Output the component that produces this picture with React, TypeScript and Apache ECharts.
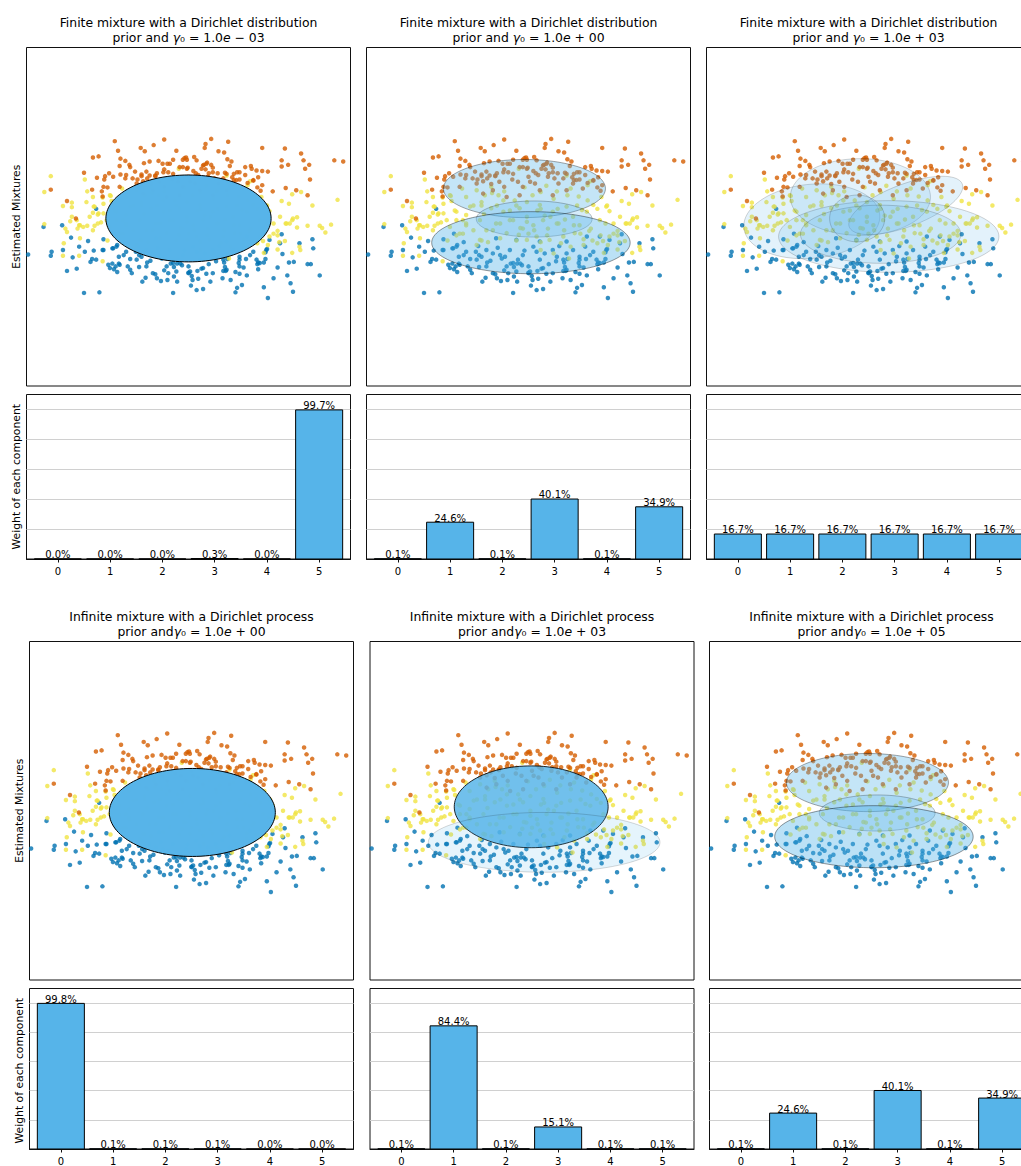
import React, { useEffect, useRef } from "react";
import * as echarts from "echarts";

type Pt = [number, number];

const FONT = "DejaVu Sans, Verdana, sans-serif";
const BLUE = "#0072B2";
const YELLOW = "#F0E442";
const ORANGE = "#D55E00";
const ELLIPSE_RGB = "86,180,233";
const ELLIPSE_COLOR = "#56B4E9";

// Samples of the three generating clusters (lower, middle, upper)
const bluePoints: Pt[] = [
  [-1.14, 0.14],
  [-1.79, -0.18], [-1.56, -0.15], [-1.45, -0.37], [-1.98, -0.67], [-1.69, -0.62], [-1.7, -0.69], [-1.55, -0.59],
  [-1.43, -0.72], [-1.35, -0.53], [-1.24, -0.43], [-1.05, -0.4], [-1.17, -0.6], [-1.06, -0.59], [-0.92, -0.3],
  [-0.94, -0.56], [-0.88, -0.5], [-1.19, -0.75], [-1.21, -0.8], [-1.38, -0.92], [-1.5, -0.96], [-0.99, -0.85],
  [-0.94, -0.83], [-0.9, -0.88], [-0.86, -0.83], [-0.92, -0.93], [-0.88, -0.98], [-0.86, -0.71], [-0.75, -0.88],
  [-0.72, -0.75], [-0.61, -0.68], [-0.7, -1.0], [-0.61, -0.89], [-0.57, -1.15], [-0.53, -1.08], [-0.51, -0.81],
  [-0.41, -1.02], [-0.39, -1.09], [-0.34, -1.14], [-0.26, -1.12], [-0.3, -0.95], [-0.22, -0.83], [-0.18, -0.89],
  [-0.14, -0.83], [-0.08, -0.86], [-0.18, -1.06], [-0.14, -1.15], [0.0, -1.0], [-1.29, -1.35], [-1.1, -1.34],
  [-0.19, -1.35], [-0.65, -0.62], [-0.8, -0.68],
  [1.15, -0.31], [1.37, -0.47], [1.53, -0.4], [1.54, -0.56], [0.97, -0.57], [0.95, -0.63], [1.16, -0.66],
  [1.24, -0.81], [1.3, -0.8], [1.47, -0.84], [1.51, -0.84], [0.95, -0.75], [0.93, -0.81], [0.86, -0.81],
  [0.85, -0.84], [0.86, -0.93], [0.71, -0.75], [0.68, -0.9], [0.63, -0.76], [0.62, -0.82], [0.63, -1.01],
  [0.72, -1.04], [0.44, -0.81], [0.48, -0.75], [0.34, -0.79], [0.43, -0.96], [0.46, -0.96], [0.45, -0.89],
  [0.42, -1.09], [0.27, -1.15], [0.22, -1.01], [0.16, -0.92], [0.11, -0.96], [0.0, -0.99], [0.04, -1.05],
  [0.05, -1.12], [0.03, -1.22], [0.1, -1.3], [0.18, -1.28], [0.6, -1.26], [0.58, -1.34], [0.66, -1.21],
  [0.93, -1.25], [1.05, -1.09], [1.22, -1.04], [1.26, -1.18], [1.29, -1.33], [1.62, -1.04], [0.98, -1.44],
  [-0.1, -0.83],
  [-0.93, -0.56], [-0.89, -0.53], [-0.77, -0.62], [-0.58, -0.71], [-0.52, -0.59], [-0.44, -0.65], [-0.35, -0.68],
  [-0.33, -0.74], [-0.29, -0.71], [-0.23, -0.59], [-0.19, -0.82], [-0.13, -0.76], [-0.07, -0.68], [0.0, -0.88],
  [0.06, -0.53], [0.1, -0.62], [0.14, -0.76], [0.2, -0.65], [0.3, -0.59], [0.35, -0.71], [0.43, -0.76],
  [0.47, -0.65], [0.55, -0.59], [0.63, -0.71], [0.7, -0.53], [0.76, -0.68], [0.84, -0.76], [0.96, -0.59],
  [1.0, -0.41], [1.13, -0.47], [-1.05, -0.59], [-1.14, -0.76], [-0.97, -0.91], [-0.85, -0.85], [-0.72, -0.94],
  [-0.64, -0.76], [-0.52, -0.88], [-0.44, -1.0], [-0.27, -0.88], [-0.15, -0.97], [0.02, -0.97], [0.18, -0.91],
  [0.3, -1.0], [0.47, -0.94], [0.63, -0.88], [0.88, -0.82], [0.14, -0.44], [-0.15, -0.41], [-0.4, -0.38],
  [0.47, -0.44], [0.72, -0.35], [0.88, -0.35],
  [-0.62, -0.52], [-0.47, -0.78], [-0.38, -0.55], [-0.05, -0.6], [0.25, -0.84], [0.38, -0.52], [0.58, -0.98],
  [0.8, -0.62], [-0.8, -0.45], [-0.25, -1.0], [0.12, -1.1], [0.52, -1.12], [-1.28, -0.62], [1.1, -0.9],
];

const yellowPoints: Pt[] = [
  [-1.7, 0.72], [-1.78, 0.44], [-1.28, 0.66], [-0.12, 0.85], [-0.96, 0.37], [-1.06, 0.34], [-1.55, 0.19],
  [-1.44, 0.25], [-1.26, 0.26], [-1.17, 0.18], [-1.44, 0.17], [-1.18, 0.07], [-1.11, 0.06],
  [-1.78, -0.13], [-1.12, 0.04], [-1.46, -0.08], [-1.35, -0.15], [-1.37, -0.21], [-1.52, -0.21], [-1.5, -0.27],
  [-1.25, -0.16], [-1.16, -0.16], [-1.08, -0.1], [-1.18, -0.24], [-1.34, -0.38], [-1.54, -0.47], [-1.55, -0.69],
  [-1.35, -0.69], [-1.06, -0.79],
  [0.47, 0.73], [0.76, 0.63], [0.73, 0.56], [1.28, 0.4], [1.39, 0.44], [1.24, 0.23], [1.53, 0.2], [1.84, 0.3],
  [1.34, -0.01], [1.2, -0.12], [1.25, -0.12], [1.28, -0.06], [1.34, -0.19], [1.47, -0.16], [1.62, -0.16],
  [1.65, -0.2], [1.69, -0.28], [1.76, -0.14], [1.1, -0.25], [1.1, -0.33], [1.0, -0.35], [1.12, -0.45],
  [1.19, -0.43], [0.98, -0.5], [0.92, -0.43], [0.93, -0.64], [1.1, -0.58], [1.28, -0.64], [1.37, -0.53],
  [1.38, -0.59], [0.5, -0.74],
  [-0.64, 0.47], [-0.58, 0.26], [-0.46, 0.15], [-0.37, 0.38], [-0.31, 0.09], [-0.23, -0.06], [-0.17, 0.29],
  [-0.11, 0.15], [-0.02, 0.0], [0.06, -0.15], [0.14, 0.21], [0.18, -0.06], [0.24, -0.21], [0.3, 0.09],
  [0.37, -0.12], [0.47, 0.18], [0.55, 0.0], [0.63, -0.15], [0.72, 0.09], [0.8, 0.21], [0.88, -0.06],
  [-0.4, -0.12], [-0.27, -0.29], [-0.52, -0.24], [-0.6, -0.41], [-0.02, -0.41], [0.1, -0.35], [0.26, -0.41],
  [0.43, -0.35], [0.57, -0.29], [-0.77, -0.12], [-0.97, -0.18], [-0.89, 0.09], [-0.72, 0.18], [-0.81, -0.06],
  [0.96, 0.18], [1.05, -0.12], [1.13, 0.0], [1.21, -0.12], [1.29, -0.03], [-1.05, 0.06], [-1.12, -0.12],
  [-1.16, 0.18], [-1.22, 0.0], [-1.3, -0.18], [-1.38, -0.06],
  [-1.44, 0.0], [-1.34, -0.15], [-1.01, -0.06], [-0.89, -0.06], [-0.77, -0.15], [-0.81, -0.3], [-0.68, -0.24],
  [-0.6, -0.06], [-0.77, 0.03], [-0.89, -0.33], [-0.58, -0.42], [-0.64, -0.5], [-0.44, -0.24], [-0.35, -0.12],
  [-0.19, -0.06], [-0.07, -0.21], [-0.15, -0.42],
  [0.27, 0.0], [0.35, -0.12], [0.44, -0.24], [0.56, -0.15], [0.64, -0.3], [0.77, -0.21], [0.79, -0.42],
  [0.89, -0.33], [0.95, -0.12], [0.4, -0.47], [0.52, -0.53], [0.68, -0.5], [0.85, -0.47], [0.23, -0.33],
  [0.07, -0.24], [0.15, -0.59], [0.31, -0.65], [0.11, 0.11], [-0.02, -0.09],
  [-0.54, 0.38], [-0.46, 0.53], [-0.77, 0.35], [-0.68, 0.2], [-0.58, 0.2], [-0.39, 0.2], [-0.31, 0.29],
  [-0.23, 0.11], [-0.15, 0.2], [-0.91, 0.11], [-1.05, 0.23], [-1.18, 0.35], [-0.97, 0.38],
  [0.15, 0.44], [0.31, 0.32], [0.48, 0.38], [0.6, 0.2], [0.73, 0.29], [0.85, 0.14], [0.36, 0.14],
  [0.15, 0.14], [-0.02, 0.26], [0.97, 0.2], [-0.45, 0.42], [0.05, 0.38], [0.35, 0.45], [0.62, 0.36],
  [0.0, -0.3], [-0.35, -0.38], [0.75, -0.25], [0.9, 0.35], [1.0, 0.1], [-0.95, 0.28], [0.45, -0.05],
  [-0.1, -0.2], [0.15, -0.45], [-0.5, -0.45], [0.68, -0.4], [-0.85, -0.3], [1.05, -0.3],
  [-0.3, 0.45], [-0.05, 0.52], [0.22, 0.55], [0.52, 0.5], [-0.82, 0.5], [-0.55, 0.05], [-0.12, -0.32],
  [0.2, 0.02], [0.66, 0.12], [-1.0, -0.42], [1.15, 0.28], [-1.25, 0.45],
];

const orangePoints: Pt[] = [
  [-0.91, 1.34], [-0.3, 1.37], [-0.87, 1.17], [-0.59, 1.22], [-0.54, 1.16], [-0.43, 1.27], [-0.15, 1.17],
  [-0.03, 1.05], [-0.07, 1.01], [-1.18, 1.05], [-1.11, 1.07], [-0.84, 1.03], [-0.78, 0.99], [-0.73, 0.92],
  [-0.85, 0.9], [-0.72, 0.88], [-0.55, 0.95], [-0.48, 0.98], [-0.37, 0.99], [-0.32, 0.94], [-0.26, 0.94],
  [-0.19, 1.01], [-0.11, 0.88], [-0.02, 0.85], [-0.52, 0.8], [-0.3, 0.84], [-0.25, 0.79], [-1.29, 0.78],
  [-0.98, 0.77], [-0.84, 0.75], [-1.03, 0.72], [-1.04, 0.66], [-1.13, 0.69], [-0.78, 0.68], [-0.69, 0.68],
  [-0.58, 0.72], [-0.48, 0.73], [-0.41, 0.73], [-0.39, 0.77], [-1.05, 0.53], [-1.0, 0.52], [-1.19, 0.48],
  [-1.07, 0.45], [-1.7, 0.48], [-1.5, 0.28], [-1.06, 0.36], [-0.63, 0.66], [-0.56, 0.63], [-1.39, -0.03],
  [0.28, 1.38], [0.49, 1.33], [0.21, 1.29], [0.2, 1.22], [0.37, 1.16], [0.44, 1.14], [0.91, 1.22], [1.19, 1.21],
  [1.39, 1.12], [0.07, 1.06], [-0.05, 1.04], [-0.02, 1.01], [0.48, 1.02], [0.53, 0.98], [1.15, 1.0],
  [1.23, 0.92], [1.15, 0.89], [1.42, 1.0], [1.49, 0.92], [1.44, 0.85], [1.8, 1.0], [1.91, 0.98], [0.19, 0.92],
  [0.23, 0.96], [0.28, 0.92], [0.3, 0.87], [0.16, 0.85], [0.21, 0.84], [-0.01, 0.87], [0.51, 0.9], [0.7, 0.88],
  [0.77, 0.9], [0.78, 0.85], [0.84, 0.82], [0.91, 0.81], [0.98, 0.8], [0.09, 0.77], [0.25, 0.77], [0.36, 0.77],
  [0.45, 0.78], [0.56, 0.76], [0.6, 0.79], [0.54, 0.7], [0.56, 0.65], [0.63, 0.66], [0.73, 0.6], [0.8, 0.64],
  [0.86, 0.7], [0.85, 0.52], [0.91, 0.56], [0.89, 0.46], [1.04, 0.45], [1.2, 0.51], [1.33, 0.47], [1.47, 0.38],
  [1.5, 0.66],
  [-0.77, 0.74], [-0.58, 0.75], [-0.51, 0.68], [-0.41, 0.72], [-0.36, 0.62], [-0.31, 0.79], [-0.3, 0.53],
  [-0.23, 0.94], [-0.19, 0.76], [-0.13, 0.62], [-0.07, 0.53], [0.0, 0.71], [0.06, 0.81], [0.08, 0.59],
  [0.14, 0.47], [0.18, 0.91], [0.22, 0.94], [0.24, 0.71], [0.3, 0.79], [0.37, 0.59], [0.43, 0.68], [0.47, 0.76],
  [0.55, 0.59], [0.59, 0.65], [0.63, 0.79], [-0.44, 0.47], [-0.56, 0.41], [-0.27, 0.35], [-0.11, 0.38],
  [0.3, 0.38], [0.47, 0.47], [0.67, 0.5], [0.8, 0.65], [-0.64, 0.59], [-0.85, 0.53], [-0.93, 0.71],
  [-0.07, 0.88], [0.1, 1.0],
  [-0.2, 0.66], [0.02, 0.62], [0.32, 0.68], [-0.46, 0.58], [0.12, 0.74], [-0.66, 0.8], [0.7, 0.74],
];

const componentIds = [0, 1, 2, 3, 4, 5];

// Estimated component weights
const finiteWeightsA = [0.0, 0.0, 0.0, 0.003, 0.0, 0.997];
const finiteWeightsB = [0.001, 0.246, 0.001, 0.401, 0.001, 0.349];
const finiteWeightsC = [0.167, 0.167, 0.167, 0.167, 0.167, 0.167];
const infiniteWeightsA = [0.998, 0.001, 0.001, 0.001, 0.0, 0.0];
const infiniteWeightsB = [0.001, 0.844, 0.001, 0.151, 0.001, 0.001];
const infiniteWeightsC = [0.001, 0.246, 0.001, 0.401, 0.001, 0.349];

// Estimated Gaussians: [meanX, meanY, width, height, angleDeg, component]
const finiteEllipsesA = [[0.0, -0.03, 2.04, 1.54, 0, 5]];
const finiteEllipsesB = [
  [-0.05, 0.5, 2.0, 1.03, 0, 5],
  [0.07, -0.04, 1.43, 0.64, 0, 1],
  [0.03, -0.46, 2.45, 1.1, 0, 3],
];
const finiteEllipsesC = [
  [-0.7, -0.08, 1.7, 1.3, 14, 0],
  [-0.1, 0.35, 1.73, 1.36, 0, 1],
  [0.46, 0.2, 1.6, 0.7, 32, 2],
  [0.25, -0.35, 2.72, 1.27, 0, 3],
  [0.15, -0.31, 1.98, 1.03, 0, 4],
  [-0.14, -0.03, 0.68, 0.83, 0, 5],
];
const infiniteEllipsesA = [[0.01, -0.03, 2.05, 1.56, 0, 0]];
const infiniteEllipsesB = [
  [-0.01, 0.07, 1.9, 1.45, 0, 1],
  [0.15, -0.56, 2.86, 1.06, 0, 3],
];
const infiniteEllipsesC = [
  [-0.05, 0.5, 2.0, 1.03, 0, 5],
  [0.07, -0.04, 1.43, 0.64, 0, 1],
  [0.03, -0.46, 2.45, 1.1, 0, 3],
];

const finitePriors = [1e-3, 1, 1e3];
const infinitePriors = [1, 1e3, 1e5];

function priorText(v: number): string {
  const exp = Math.round(Math.log10(v));
  const mant = (v / Math.pow(10, exp)).toFixed(1);
  const sign = exp < 0 ? "\u2212" : "+";
  const e = String(Math.abs(exp)).padStart(2, "0");
  return `${mant}{i|e} ${sign} ${e}`;
}

const CHART_W = 1040;
const CHART_H = 1166;
const COL_W = 324;
const SCATTER_H = 338.5;
const BAR_H = 164.5;

interface Panel {
  left: number;
  scatterTop: number;
  barTop: number;
  weights: number[];
  ellipses: number[][];
  title: string;
}

const panels: Panel[] = [
  ...[0, 1, 2].map((i) => ({
    left: [26.5, 366.5, 706.5][i],
    scatterTop: 47.5,
    barTop: 394.5,
    weights: [finiteWeightsA, finiteWeightsB, finiteWeightsC][i],
    ellipses: [finiteEllipsesA, finiteEllipsesB, finiteEllipsesC][i],
    title:
      "Finite mixture with a Dirichlet distribution\nprior and {i|\u03b3}\u2080 = " +
      priorText(finitePriors[i]),
  })),
  ...[0, 1, 2].map((i) => ({
    left: [29.5, 370, 709.5][i],
    scatterTop: 641.5,
    barTop: 988.5,
    weights: [infiniteWeightsA, infiniteWeightsB, infiniteWeightsC][i],
    ellipses: [infiniteEllipsesA, infiniteEllipsesB, infiniteEllipsesC][i],
    title:
      "Infinite mixture with a Dirichlet process\nprior and{i|\u03b3}\u2080 = " +
      priorText(infinitePriors[i]),
  })),
];

function buildOption() {
  const grid: any[] = [];
  const xAxis: any[] = [];
  const yAxis: any[] = [];
  const series: any[] = [];
  const graphic: any[] = [];

  panels.forEach((p, idx) => {
    const sIdx = grid.length;
    grid.push({
      left: p.left,
      top: p.scatterTop,
      width: COL_W,
      height: SCATTER_H,
      show: true,
      borderColor: "#111",
      borderWidth: 1,
      backgroundColor: "#fff",
      containLabel: false,
    });
    xAxis.push({ gridIndex: sIdx, type: "value", min: -2, max: 2, show: false });
    yAxis.push({ gridIndex: sIdx, type: "value", min: -3, max: 3, show: false });

    const clusters: [Pt[], string][] = [
      [bluePoints, BLUE],
      [yellowPoints, YELLOW],
      [orangePoints, ORANGE],
    ];
    clusters.forEach(([pts, color]) => {
      series.push({
        type: "scatter",
        xAxisIndex: sIdx,
        yAxisIndex: sIdx,
        data: pts,
        symbol: "circle",
        symbolSize: 4.5,
        silent: true,
        itemStyle: { color, opacity: 0.8 },
        z: 2,
      });
    });

    series.push({
      type: "custom",
      xAxisIndex: sIdx,
      yAxisIndex: sIdx,
      clip: true,
      silent: true,
      z: 3,
      data: p.ellipses,
      renderItem: (_params: any, api: any) => {
        const mx = api.value(0);
        const my = api.value(1);
        const w = api.value(2) / 2;
        const h = api.value(3) / 2;
        const ang = (api.value(4) * Math.PI) / 180;
        const alpha = p.weights[api.value(5)];
        const points: number[][] = [];
        const n = 120;
        for (let k = 0; k < n; k++) {
          const t = (2 * Math.PI * k) / n;
          const dx = w * Math.cos(t);
          const dy = h * Math.sin(t);
          points.push(
            api.coord([
              mx + dx * Math.cos(ang) - dy * Math.sin(ang),
              my + dx * Math.sin(ang) + dy * Math.cos(ang),
            ])
          );
        }
        return {
          type: "polygon",
          shape: { points },
          style: {
            fill: `rgba(${ELLIPSE_RGB},${alpha})`,
            stroke: `rgba(0,0,0,${alpha})`,
            lineWidth: 1,
          },
        };
      },
    });

    const bIdx = grid.length;
    grid.push({
      left: p.left,
      top: p.barTop,
      width: COL_W,
      height: BAR_H,
      show: true,
      borderColor: "#111",
      borderWidth: 1,
      backgroundColor: "#fff",
    });
    xAxis.push({
      gridIndex: bIdx,
      type: "value",
      min: -0.6,
      max: 5.6,
      splitLine: { show: false },
      axisLine: { show: true, lineStyle: { color: "#111", width: 1 } },
      axisTick: {
        show: true,
        length: 3.5,
        lineStyle: { color: "#111" },
        customValues: componentIds,
      },
      axisLabel: {
        show: true,
        customValues: componentIds,
        fontSize: 10,
        fontFamily: FONT,
        color: "#000",
        margin: 7,
        formatter: (v: number) => String(v),
      },
    });
    yAxis.push({
      gridIndex: bIdx,
      type: "value",
      min: 0,
      max: 1.1,
      interval: 0.2,
      axisLine: { show: false },
      axisTick: { show: false },
      axisLabel: { show: false },
      splitLine: {
        show: true,
        showMinLine: false,
        showMaxLine: false,
        lineStyle: { color: "#d0d0d0", width: 1 },
      },
    });
    series.push({
      type: "custom",
      xAxisIndex: bIdx,
      yAxisIndex: bIdx,
      silent: true,
      z: 3,
      data: componentIds.map((c) => [c, p.weights[c]]),
      renderItem: (_params: any, api: any) => {
        const k = api.value(0);
        const w = api.value(1);
        const tl = api.coord([k - 0.45, w]);
        const br = api.coord([k + 0.45, 0]);
        const lab = api.coord([k, w + 0.007]);
        return {
          type: "group",
          children: [
            {
              type: "rect",
              shape: { x: tl[0], y: tl[1], width: br[0] - tl[0], height: br[1] - tl[1] },
              style: { fill: ELLIPSE_COLOR, stroke: "#000", lineWidth: 1 },
            },
            {
              type: "text",
              x: lab[0],
              y: lab[1] + 2,
              style: {
                text: (w * 100).toFixed(1) + "%",
                align: "center",
                verticalAlign: "bottom",
                fontSize: 10,
                fontFamily: FONT,
                fill: "#000",
              },
            },
          ],
        };
      },
    });

    graphic.push({
      type: "text",
      x: p.left + COL_W / 2,
      y: p.scatterTop - 32.5,
      silent: true,
      style: {
        text: p.title,
        align: "center",
        verticalAlign: "top",
        fontSize: 12.4,
        fontFamily: FONT,
        lineHeight: 15,
        fill: "#000",
        rich: {
          i: { fontStyle: "italic", fontSize: 12.4, fontFamily: FONT, lineHeight: 15, fill: "#000" },
        },
      },
    });

    if (idx % 3 === 0) {
      const lx = p.left - 10.5;
      graphic.push({
        type: "text",
        x: lx,
        y: p.scatterTop + SCATTER_H / 2,
        rotation: Math.PI / 2,
        silent: true,
        style: {
          text: "Estimated Mixtures",
          align: "center",
          verticalAlign: "middle",
          fontSize: 10.8,
          fontFamily: FONT,
          fill: "#000",
        },
      });
      graphic.push({
        type: "text",
        x: lx,
        y: p.barTop + BAR_H / 2,
        rotation: Math.PI / 2,
        silent: true,
        style: {
          text: "Weight of each component",
          align: "center",
          verticalAlign: "middle",
          fontSize: 10.8,
          fontFamily: FONT,
          fill: "#000",
        },
      });
    }
  });

  return {
    animation: false,
    backgroundColor: "#fff",
    grid,
    xAxis,
    yAxis,
    series,
    graphic,
  };
}

export default function App() {
  const ref = useRef<HTMLDivElement>(null);
  useEffect(() => {
    if (!ref.current) return;
    const chart = echarts.init(ref.current, undefined, { renderer: "svg" });
    chart.setOption(buildOption() as any);
    return () => chart.dispose();
  }, []);
  return (
    <div
      style={{
        position: "absolute",
        left: 0,
        top: 0,
        width: 1021,
        height: CHART_H,
        overflow: "hidden",
      }}
    >
      <div ref={ref} style={{ width: CHART_W, height: CHART_H }} />
    </div>
  );
}
